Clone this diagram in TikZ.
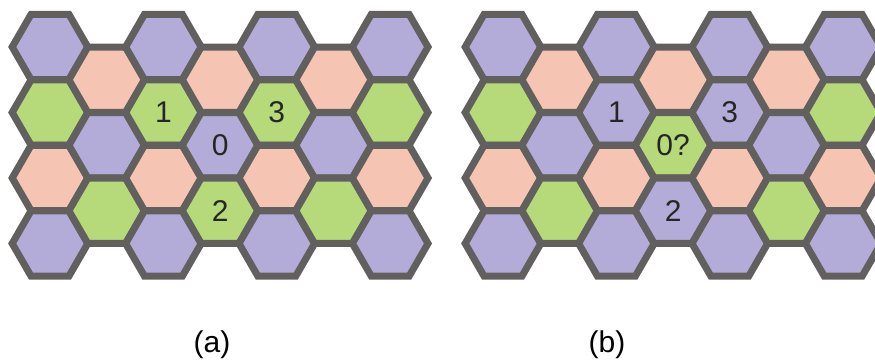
\documentclass[tikz,border=0pt]{standalone}
\usepackage{fontspec}
\setmainfont{Liberation Sans}
\definecolor{hexP}{RGB}{180,172,216}
\definecolor{hexS}{RGB}{245,196,178}
\definecolor{hexG}{RGB}{182,218,122}
\definecolor{hexBorder}{RGB}{98,96,94}

\begin{document}
\begin{tikzpicture}[x=1pt,y=-1pt,
  hexcell/.style={draw=hexBorder,line width=7pt,fill=#1},
  cellnum/.style={font=\fontsize{30}{36}\selectfont,text=black!85},
  caption/.style={font=\fontsize{30}{36}\selectfont}]
 \clip (0,0) rectangle (875,363);
 % panel (a)
 \foreach \c/\cells in {0/{P,G,S,P},1/{S,P,G},2/{P,G,S,P},3/{S,P,G},
                         4/{P,G,S,P},5/{S,P,G},6/{P,G,S,P}}
   \foreach \f [count=\r from 0] in \cells {
     \coordinate (a\c\r) at ({50+56.7*\c},{47+65.5*\r+32.75*mod(\c,2)});
     \path[hexcell=hex\f] (a\c\r) +(0:37.8) -- +(60:37.8) -- +(120:37.8)
       -- +(180:37.8) -- +(240:37.8) -- +(300:37.8) -- cycle;
   }
 % panel (b)
 \foreach \c/\cells in {0/{P,G,S,P},1/{S,P,G},2/{P,P,S,P},3/{S,G,P},
                         4/{P,P,S,P},5/{S,P,G},6/{P,G,S,P}}
   \foreach \f [count=\r from 0] in \cells {
     \coordinate (b\c\r) at ({503+56.7*\c},{47+65.5*\r+32.75*mod(\c,2)});
     \path[hexcell=hex\f] (b\c\r) +(0:37.8) -- +(60:37.8) -- +(120:37.8)
       -- +(180:37.8) -- +(240:37.8) -- +(300:37.8) -- cycle;
   }
 \node[cellnum] at (a21) {1};
 \node[cellnum] at (a31) {0};
 \node[cellnum] at (a32) {2};
 \node[cellnum] at (a41) {3};
 \node[cellnum] at (b21) {1};
 \node[cellnum] at (b31) {0?};
 \node[cellnum] at (b32) {2};
 \node[cellnum] at (b41) {3};
 \node[caption] (capA) at (212,345) {(a)};
 \node[caption] (capB) at (607,345) {(b)};
\end{tikzpicture}
\end{document}
